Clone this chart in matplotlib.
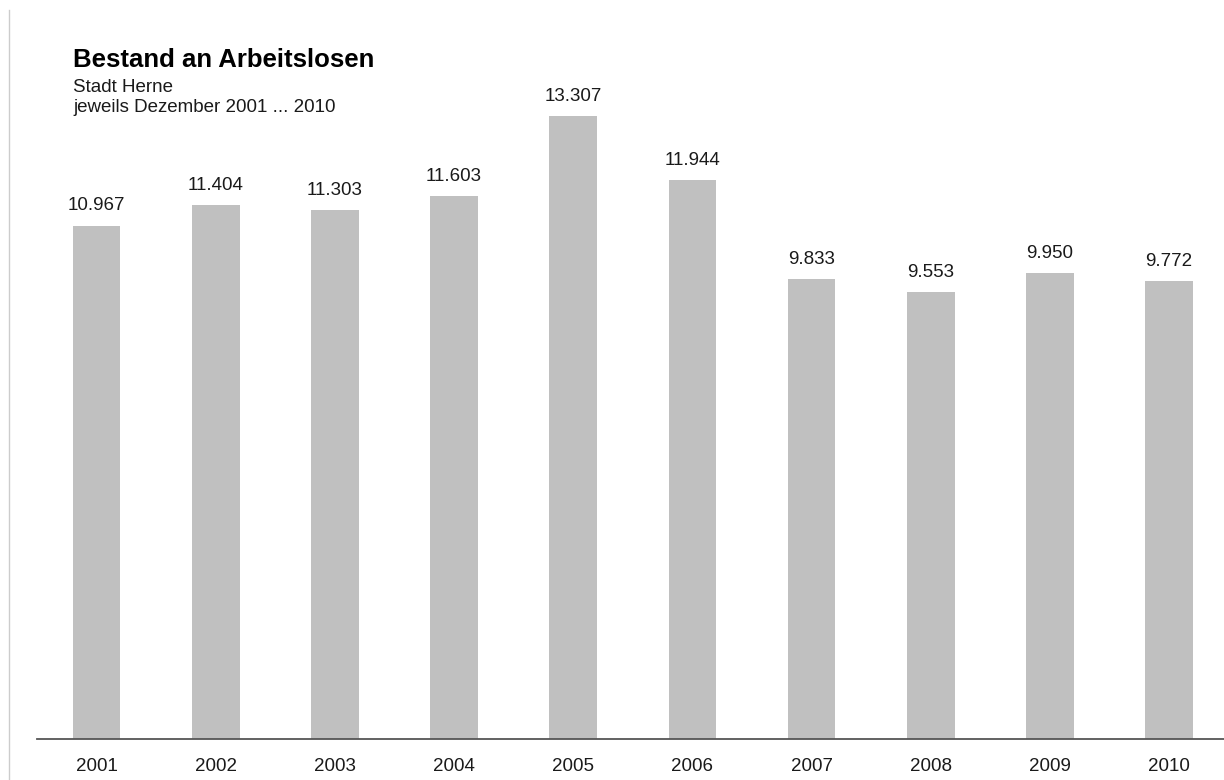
import matplotlib
matplotlib.use("Agg")
import matplotlib.pyplot as plt
import numpy as np

plt.rcParams['font.family'] = ['Liberation Sans', 'DejaVu Sans']

# Arbeitslose in Herne, jeweils Dezember
years = ['2001', '2002', '2003', '2004', '2005', '2006', '2007', '2008', '2009', '2010']
values = [10967, 11404, 11303, 11603, 13307, 11944, 9833, 9553, 9950, 9772]
value_labels = ['10.967', '11.404', '11.303', '11.603', '13.307',
                '11.944', '9.833', '9.553', '9.950', '9.772']

W, H = 1224, 780
fig = plt.figure(figsize=(W / 100, H / 100), dpi=100)

# axes: left at x=37px, baseline at y=739px
ax = fig.add_axes([37 / W, (H - 739) / H, 1 - 37 / W, 739 / H])
x = np.arange(len(years))
ax.bar(x, values, width=0.4, color='#c0c0c0', zorder=2)

ax.set_xlim(-0.5, 9.46)
ax.set_ylim(0, 739 / 0.04682)

for xi, v, lab in zip(x, values, value_labels):
    ax.annotate(lab, (xi, v), xytext=(0, 8), textcoords='offset points',
                ha='center', va='bottom', fontsize=13.5, color='#1a1a1a')

ax.set_xticks(x)
ax.set_xticklabels(years, fontsize=13.5, color='#1a1a1a')
ax.tick_params(axis='x', length=0, pad=14)
ax.set_yticks([])
for s in ['top', 'right', 'left']:
    ax.spines[s].set_visible(False)
ax.spines['bottom'].set_color('#555555')
ax.spines['bottom'].set_linewidth(1.3)

# thin frame line on the left side
fig.add_artist(plt.Line2D([8.5 / W, 8.5 / W], [0, 1 - 10 / H], color='#cccccc', lw=1))

fig.text(73 / W, 1 - 60 / H, 'Bestand an Arbeitslosen', fontsize=18.5, fontweight='bold',
         ha='left', va='center', color='black')
fig.text(73 / W, 1 - 87 / H, 'Stadt Herne', fontsize=13.5, ha='left', va='center', color='#1a1a1a')
fig.text(73 / W, 1 - 108 / H, 'jeweils Dezember 2001 ... 2010', fontsize=13.5, ha='left',
         va='center', color='#1a1a1a')

fig.savefig('out.png', dpi=100)
